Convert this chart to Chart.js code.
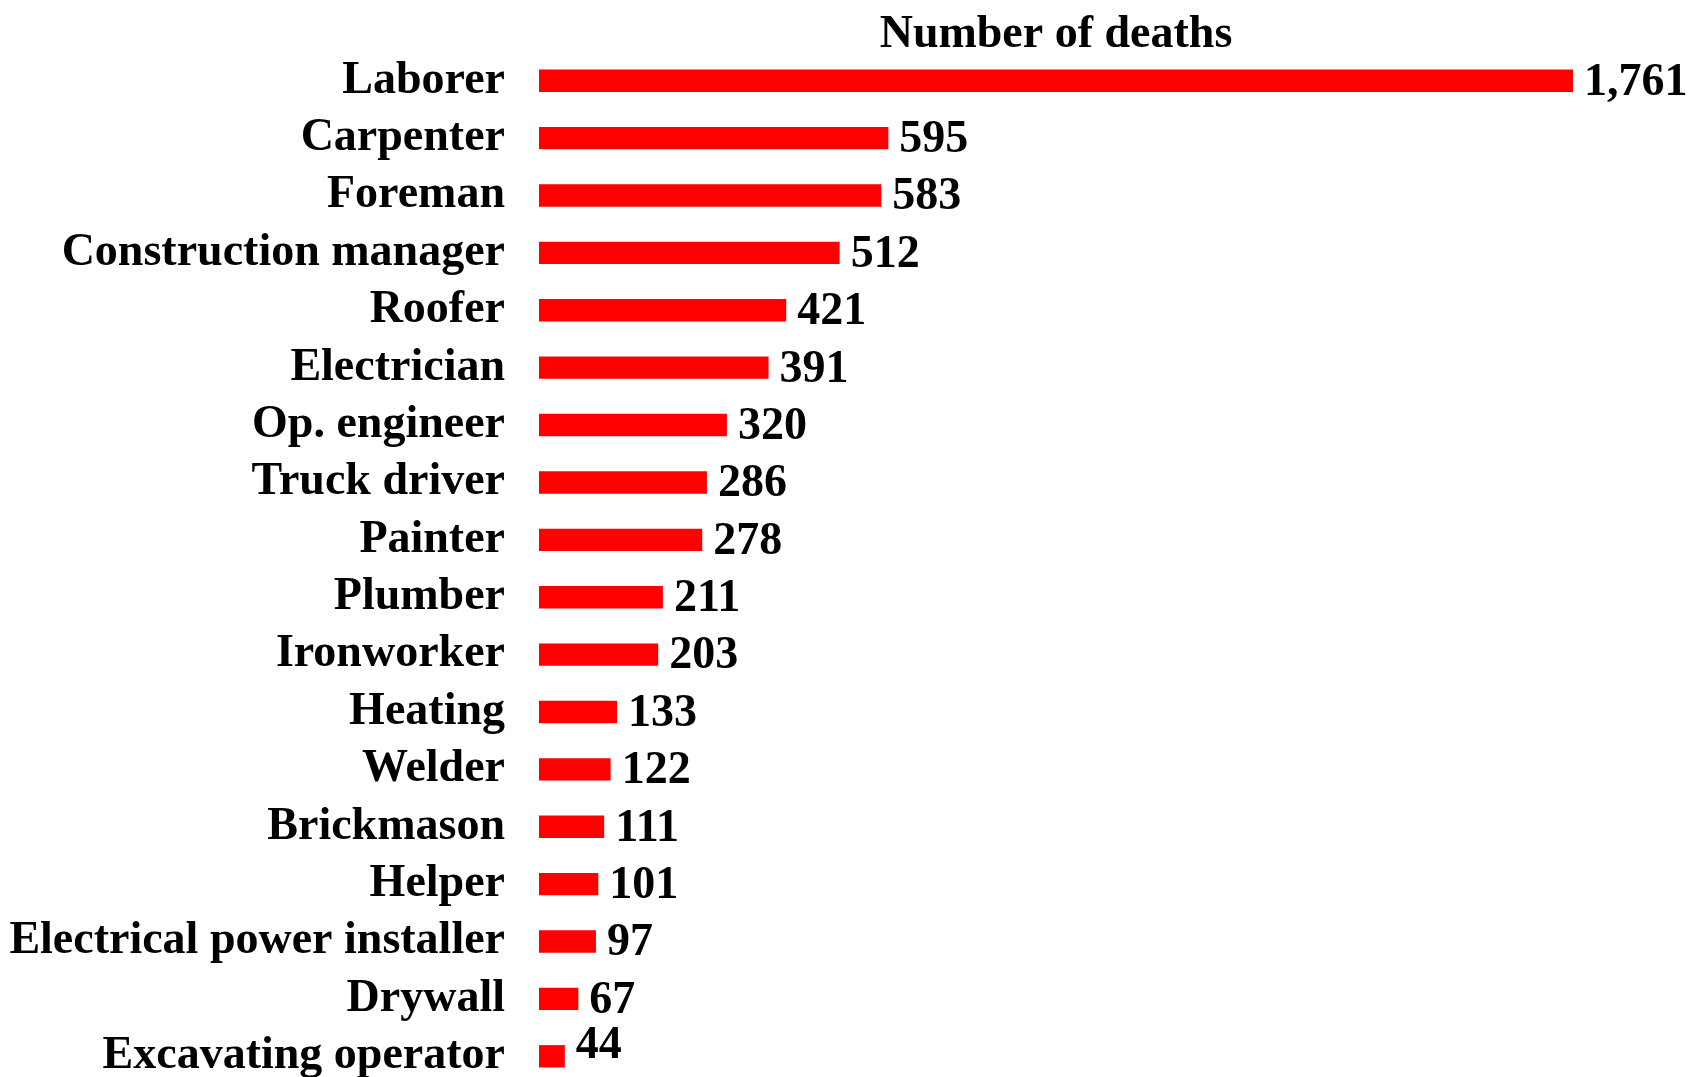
<!DOCTYPE html>
<html>
<head>
<meta charset="utf-8">
<script src="https://cdn.jsdelivr.net/npm/chart.js@4.4.0/dist/chart.umd.min.js"></script>
<style>
    html, body { margin: 0; padding: 0; background: #fff; overflow: hidden; }
    #chartMuertes { display: block; }
</style>
</head>
<body>
<canvas id="chartMuertes" width="1693" height="1085"></canvas>
<script>
const OFICIOS = [
    'Laborer', 'Carpenter', 'Foreman', 'Construction manager', 'Roofer',
    'Electrician', 'Op. engineer', 'Truck driver', 'Painter', 'Plumber',
    'Ironworker', 'Heating', 'Welder', 'Brickmason', 'Helper',
    'Electrical power installer', 'Drywall', 'Excavating operator'
];

const MUERTES = [1761, 595, 583, 512, 421, 391, 320, 286, 278, 211, 203, 133, 122, 111, 101, 97, 67, 44];

const TITULO = 'Number of deaths';

const FAMILIA = '"Liberation Serif", "Times New Roman", serif';
const FUENTE = 'bold 46px ' + FAMILIA;

// etiquetas de valor a la derecha de cada barra
const etiquetasValor = {
    id: 'etiquetasValor',
    afterDatasetsDraw(chart) {
        const ctx = chart.ctx;
        const meta = chart.getDatasetMeta(0);
        ctx.save();
        ctx.font = FUENTE;
        ctx.fillStyle = '#000';
        ctx.textAlign = 'left';
        ctx.textBaseline = 'middle';
        meta.data.forEach((barra, i) => {
            const valor = chart.data.datasets[0].data[i];
            // la última etiqueta va un poco más arriba, como en el original
            const subir = (i === meta.data.length - 1) ? 12 : 0;
            ctx.fillText(valor.toLocaleString('en-US'), barra.x + 11, barra.y + 2 - subir);
        });
        ctx.restore();
    }
};

const ctx = document.getElementById('chartMuertes');

new Chart(ctx, {
    type: 'bar',
    data: {
        labels: OFICIOS,
        datasets: [{
            data: MUERTES,
            backgroundColor: '#ff0000',
            borderWidth: 0,
            categoryPercentage: 1,
            barPercentage: 0.39
        }]
    },
    options: {
        indexAxis: 'y',
        responsive: false,
        animation: false,
        devicePixelRatio: 1,
        layout: { padding: { left: 0, right: 120, top: 0, bottom: 0 } },
        plugins: {
            legend: { display: false },
            tooltip: { enabled: false },
            title: {
                display: true,
                text: TITULO,
                fullSize: false,
                color: '#000',
                font: { family: FAMILIA, size: 46, weight: 'bold', lineHeight: 0.74 },
                padding: { top: 18, bottom: 0 }
            }
        },
        scales: {
            x: {
                display: false,
                min: 0,
                max: 1761
            },
            y: {
                grid: { display: false, drawTicks: false },
                border: { display: false },
                afterFit: (escala) => {
                    escala.width = 539;
                    escala.paddingTop = 0;
                    escala.paddingBottom = 0;
                },
                ticks: {
                    color: '#000',
                    padding: 34,
                    autoSkip: false,
                    font: { family: FAMILIA, size: 46, weight: 'bold' }
                }
            }
        }
    },
    plugins: [etiquetasValor]
});
</script>
</body>
</html>
